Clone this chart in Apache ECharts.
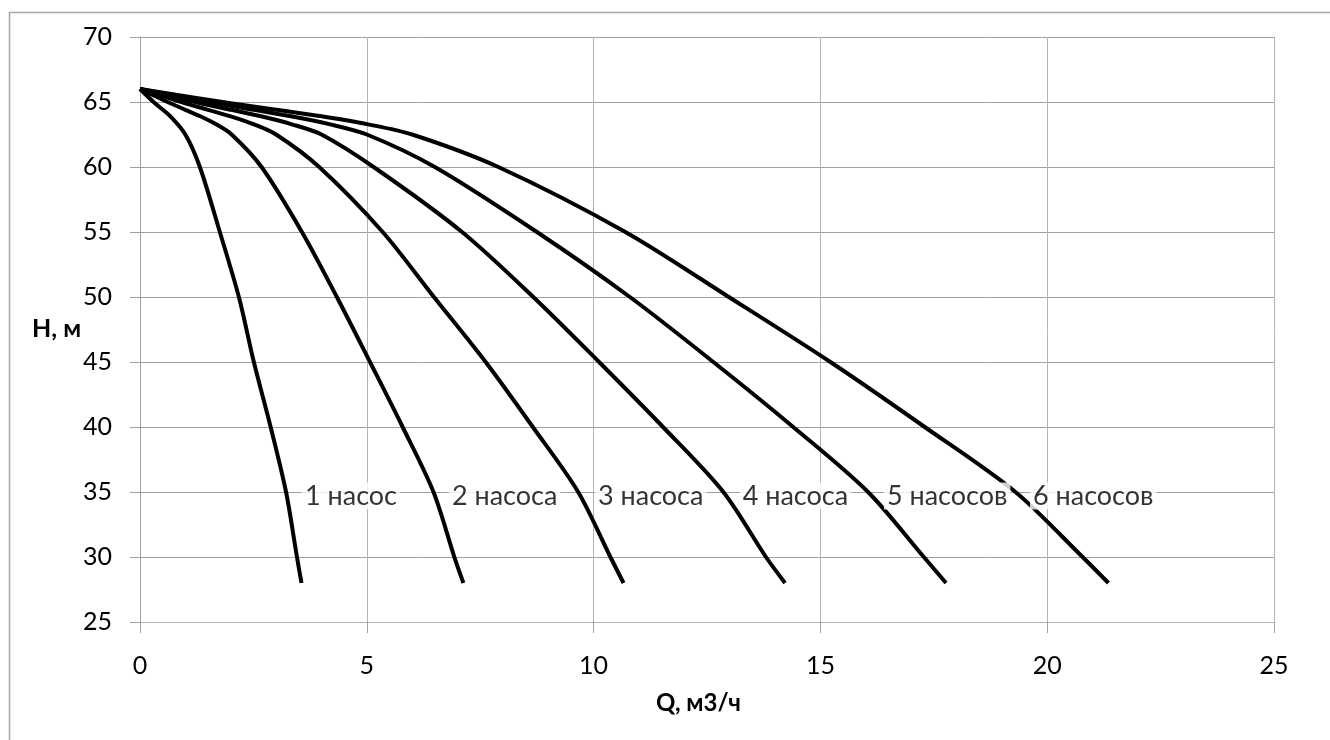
<!DOCTYPE html>
<html>
<head>
    <meta charset="utf-8">
    <title>Характеристики насосов</title>
    <script src="https://cdn.jsdelivr.net/npm/echarts@6/dist/echarts.min.js"></script>
    <style>
        html, body { margin: 0; padding: 0; background: #fff; }
        #chart { width: 1330px; height: 740px; }
    </style>
</head>
<body>
<div id="chart"></div>
<script type="text/javascript">
    // точки кривых Q (м3/ч), H (м)
    var pumps1 = [[0, 66], [0.33, 64.9], [0.67, 63.9], [1.0, 62.5], [1.32, 60], [1.76, 55], [2.18, 50], [2.51, 45], [2.88, 40], [3.22, 35], [3.46, 30], [3.56, 28]];
    var pumps2 = [[0, 66], [0.67, 64.9], [1.0, 64.4], [1.33, 63.9], [1.67, 63.3], [2.02, 62.5], [2.68, 60], [3.57, 55], [4.34, 50], [5.07, 45], [5.79, 40], [6.47, 35], [6.93, 30], [7.13, 28]];
    var pumps3 = [[0, 66], [1, 64.9], [1.5, 64.4], [2, 63.9], [2.5, 63.3], [3, 62.5], [3.95, 60], [5.35, 55], [6.48, 50], [7.62, 45], [8.66, 40], [9.66, 35], [10.37, 30], [10.66, 28]];
    var pumps4 = [[0, 66], [1.33, 64.9], [2, 64.4], [2.67, 63.9], [3.33, 63.3], [4, 62.5], [5.15, 60], [7.1, 55], [8.67, 50], [10.12, 45], [11.53, 40], [12.86, 35], [13.8, 30], [14.22, 28]];
    var pumps5 = [[0, 66], [1.67, 64.9], [2.5, 64.4], [3.33, 63.9], [4.17, 63.3], [5, 62.5], [6.5, 60], [8.75, 55], [10.8, 50], [12.64, 45], [14.4, 40], [16.05, 35], [17.28, 30], [17.77, 28]];
    var pumps6 = [[0, 66], [2, 64.9], [3, 64.4], [4, 63.9], [5, 63.3], [6, 62.5], [7.9, 60], [10.7, 55], [12.98, 50], [15.22, 45], [17.3, 40], [19.3, 35], [20.78, 30], [21.35, 28]];

    var curveNames = ['1 насос', '2 насоса', '3 насоса', '4 насоса', '5 насосов', '6 насосов'];
    // где стоят подписи кривых (Q, H)
    var labelQ = [3.57, 6.81, 10.03, 13.22, 16.40, 19.62];
    var labelH = [34.7, 34.7, 34.7, 34.7, 34.7, 34.7];

    var xTitle = 'Q, м3/ч';
    var yTitle = 'H, м';

    var fontName = 'Lato, "Open Sans", sans-serif';
    var myChart = echarts.init(document.getElementById('chart'));

    var curves = [pumps1, pumps2, pumps3, pumps4, pumps5, pumps6];
    var series = curves.map(function (pts, i) {
        return {
            name: curveNames[i],
            type: 'line',
            data: pts,
            smooth: 0.3,
            showSymbol: false,
            lineStyle: { color: '#000', width: 4 },
            z: 3
        };
    });

    var labelData = curveNames.map(function (n, i) {
        return [labelQ[i], labelH[i], n];
    });
    series.push({
        type: 'scatter',
        data: labelData,
        symbolSize: 0,
        silent: true,
        z: 5,
        label: {
            show: true,
            position: 'right',
            distance: 0,
            formatter: function (p) { return p.data[2]; },
            fontFamily: fontName,
            fontSize: 27,
            color: '#000',
            backgroundColor: '#fff',
            padding: [0, 3]
        }
    });

    myChart.setOption({
        animation: false,
        backgroundColor: '#fff',
        grid: { left: 140, right: 56, top: 37, bottom: 118 },
        xAxis: {
            type: 'value',
            min: 0,
            max: 25,
            interval: 5,
            axisLine: { show: true, lineStyle: { color: '#b4b4b4', width: 1 } },
            axisTick: { show: true, length: 11, lineStyle: { color: '#a0a0a0' } },
            axisLabel: { margin: 31, fontFamily: fontName, fontSize: 25, color: '#000' },
            splitLine: { show: true, lineStyle: { color: '#b4b4b4', width: 1 } }
        },
        yAxis: {
            type: 'value',
            min: 25,
            max: 70,
            interval: 5,
            axisLine: { show: true, lineStyle: { color: '#a0a0a0', width: 1 } },
            axisTick: { show: true, length: 10, lineStyle: { color: '#a0a0a0' } },
            axisLabel: { margin: 28, fontFamily: fontName, fontSize: 25, color: '#000' },
            splitLine: { show: true, lineStyle: { color: '#a0a0a0', width: 1 } }
        },
        graphic: [
            {
                type: 'rect',
                shape: { x: 9.5, y: 12.5, width: 1360, height: 780 },
                style: { fill: 'none', stroke: '#a8a8a8', lineWidth: 1.5 },
                silent: true
            },
            {
                type: 'text',
                left: 32,
                top: 316,
                style: { text: yTitle, font: 'bold 25px ' + fontName, fill: '#000' }
            },
            {
                type: 'text',
                left: 656,
                top: 691,
                style: { text: xTitle, font: 'bold 24px ' + fontName, fill: '#000' }
            }
        ],
        series: series
    });
</script>
</body>
</html>
